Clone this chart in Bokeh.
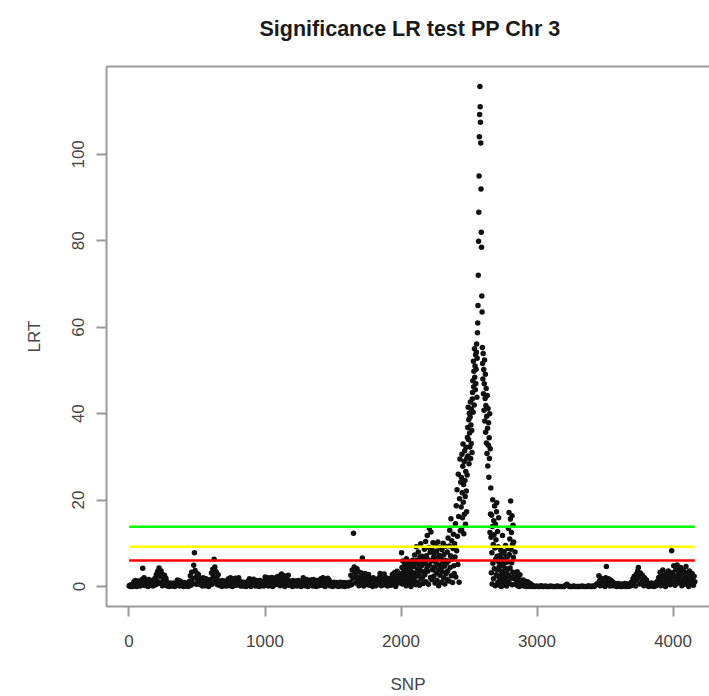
import numpy as np
from bokeh.plotting import figure
from bokeh.models import Range1d, LinearAxis, FixedTicker, ColumnDataSource
from bokeh.embed import file_html
from bokeh.resources import INLINE

# ---------------- data (LRT per SNP) ----------------
# each block: first SNP index, SNP spacing, LRT values
start_a, step_a = 1, 5
lrt_a = [0.1, 0.3, 0.0, 0.4, 0.2, 0.0,
         0.5, 1.1, 0.2, 1.4, 0.8, 0.0, 1.2, 0.4, 0.9, 1.3, 0.1, 0.7, 1.0,
         1.6, 4.2, 0.3, 2.0, 1.1, 0.6,
         0.2, 1.5, 0.9, 0.0, 1.6, 0.5, 1.2, 0.3, 1.4, 0.8, 0.1, 1.1, 0.6,
         1.9, 0.4, 2.8, 1.3, 3.5, 0.7, 4.3, 2.4, 1.0, 3.6, 2.9, 0.2, 2.0, 1.5, 2.6,
         0.6, 1.9, 1.2, 0.1,
         0.3, 0.7, 0.0, 0.5, 0.8, 0.2, 0.6, 0.1, 0.4, 0.8, 0.0, 0.5, 0.3, 0.7,
         1.5, 0.4, 1.0, 0.1, 1.3, 0.6, 0.9, 0.2,
         0.5, 0.0, 0.9, 0.3, 0.7, 0.1, 0.8, 0.4, 0.0, 0.6,
         1.2, 2.5, 0.3, 3.3, 1.8, 0.7, 4.9, 7.8, 3.7, 2.1, 0.5, 3.0, 1.4, 2.7, 0.9, 1.9,
         0.4, 1.7, 1.0, 0.1, 2.0, 0.7, 1.3, 0.2, 1.8, 0.9, 0.5, 1.5, 0.0, 1.1, 0.6,
         1.6, 3.1, 0.5, 4.0, 2.3, 6.3, 4.5, 1.2, 3.4, 2.0, 0.4, 2.7, 1.0,
         0.3, 1.2, 0.8, 0.0, 1.4, 0.5, 1.0, 0.2, 1.3, 0.7, 0.1, 0.9,
         0.6, 1.8, 1.1, 0.2, 2.0, 0.9, 1.4, 0.0, 1.7, 0.5, 1.2, 1.9, 0.3, 1.0, 1.6, 0.4, 2.0, 0.8, 1.3, 0.1,
         0.4, 0.9, 0.1, 0.6, 1.0, 0.2, 0.7, 0.0, 0.5, 0.8,
         1.3, 0.3, 1.8, 0.8, 0.0, 1.5, 1.0, 0.4, 1.7, 0.6, 1.2, 0.1, 1.4, 0.9,
         0.5, 1.1, 0.0, 1.4, 0.7, 0.2, 1.2, 0.4, 0.9, 0.1,
         1.0, 2.2, 0.3, 1.6, 0.8, 2.0, 0.1, 1.3, 1.9, 0.5, 1.1, 2.1, 0.0, 1.5, 0.7, 1.8, 0.4, 1.2, 2.2, 0.6,
         0.9, 2.4, 1.5, 0.2, 2.0, 2.9, 1.1, 0.5, 1.8, 2.5, 0.0, 1.3, 2.2, 0.7, 1.6, 2.6, 0.3, 1.0,
         0.4, 1.2, 0.7, 0.0, 1.4, 0.9, 0.2, 1.1, 0.5, 1.3, 0.1, 0.8, 1.4, 0.3, 1.0, 0.6, 0.0, 1.2, 0.7, 2.0,
         0.5, 1.4, 0.2, 1.0, 1.6, 0.7, 0.0, 1.3, 0.9, 0.3, 1.5, 0.6, 1.1, 0.1, 1.6, 0.8, 0.4, 1.2, 0.0, 1.4, 0.7, 1.0, 0.2, 1.5,
         0.9, 1.8, 0.3, 1.4, 2.0, 0.6, 1.1, 0.0, 1.7, 1.2, 0.4, 1.9, 0.8, 1.5, 0.2, 1.0,
         0.3, 0.8, 0.0, 0.5, 1.0, 0.2, 0.7, 0.4, 0.9, 0.1, 0.6, 0.0, 0.8, 0.3, 1.0, 0.5, 0.1, 0.7, 0.4, 0.9, 0.0, 0.6, 0.2, 0.8, 0.5, 0.1, 0.9, 0.3,
         1.0, 2.6, 0.4, 3.8, 1.9, 12.3, 4.5, 3.1, 0.8, 2.3, 4.1, 1.4, 3.4, 0.2,
         2.0, 0.6, 3.2, 1.3, 6.6, 2.6, 0.1, 1.8, 3.0, 0.9, 2.3, 1.5, 0.4, 2.8,
         1.1, 0.3, 1.9, 0.7, 1.4, 0.0, 2.0, 1.0, 0.5, 1.6, 0.2, 1.3, 0.8, 1.8,
         0.6, 2.1, 3.0, 1.2, 0.2, 2.6, 1.7, 0.9, 2.9,
         0.4, 1.5, 2.0, 0.8, 0.1, 1.2, 1.8, 0.6, 1.0,
         0.3, 1.9, 2.8, 1.1, 0.5, 3.2, 2.2, 0.0, 1.6, 3.5, 2.5, 0.8, 1.3, 3.0, 2.0]

start_b, step_b = 2001, 3
lrt_b = [2.1, 7.8, 4.4, 0.6, 5.9, 3.2, 1.5,
         3.8, 0.9, 5.2, 2.6, 4.4, 0.2, 6.4, 3.1, 1.7, 4.9, 2.2, 0.5, 5.7, 3.6, 1.2, 4.1, 2.8, 0.0, 5.0, 1.9, 3.3, 6.1, 0.8, 2.5,
         4.6, 1.4, 7.3, 3.0, 5.5, 0.4, 9.2, 2.4, 6.1, 4.0, 1.0, 8.0, 5.1, 2.9, 0.3, 6.8, 3.7, 9.9, 1.8, 4.8, 7.0, 2.0, 5.8, 0.7, 3.4, 6.4,
         8.6, 2.7, 5.3, 10.4, 1.1, 7.1, 4.2, 11.8, 3.5, 6.2, 0.5, 9.0, 13.5, 4.9, 7.9, 2.1, 12.6, 5.9, 1.6, 8.4, 3.9, 10.1, 6.7,
         2.4, 7.6, 4.5, 0.8, 9.6, 5.6, 3.1, 8.2, 1.4, 6.5, 10.3, 3.8, 0.2, 7.2, 5.0, 2.6, 9.0, 4.1, 6.9, 1.0, 8.5, 3.4, 5.8, 10.0, 2.0, 7.4, 4.7, 0.6, 6.1, 9.3, 3.0, 5.4, 1.7,
         8.0, 3.6, 11.2, 5.9, 1.3, 9.4, 13.0, 4.4, 7.1, 15.7, 2.5, 10.6, 6.3, 0.9, 8.8, 12.1, 4.8, 3.0, 9.9, 6.8,
         14.5, 2.2, 18.7, 8.3, 22.4, 11.6, 5.1, 26.0, 16.2, 1.0, 20.3, 29.5, 12.9, 24.1]

start_c, step_c = 2442, 2
lrt_c = [18.4, 25.2, 13.1, 30.6, 21.7, 15.9, 27.8, 33.0, 19.5, 23.6, 12.2, 28.9, 16.7, 31.4, 24.5, 20.8, 14.4, 26.6, 32.2, 22.1, 17.3, 29.7, 25.8, 34.5,
         36.8, 30.2, 41.5, 34.0, 38.6, 28.4, 40.1, 35.5, 32.3, 39.2, 42.7, 29.6, 37.4, 33.1, 41.0, 36.1, 31.0, 43.4,
         44.9, 47.6, 40.3, 52.1, 46.2, 49.8, 42.0, 55.0, 48.4, 51.0, 45.5, 53.6, 47.0, 50.3, 54.2, 56.1, 43.8, 52.8,
         58.7, 61.0, 65.0, 72.0, 79.9, 86.6, 95.0, 104.1, 109.2, 115.7, 111.0, 107.4, 102.6, 92.0, 82.0, 78.5, 67.2, 63.5,
         55.3, 51.6, 48.0, 53.9, 44.6, 50.2, 40.8, 46.9, 52.4, 38.3, 43.5, 49.1, 35.7, 41.9, 45.8, 33.2, 39.4, 30.8, 44.2, 36.6, 27.9, 41.2, 32.7, 37.9, 25.3, 34.4, 29.6, 40.0, 12.5, 31.9, 16.8, 22.8]

start_d, step_d = 2662, 2
lrt_d = [11.4, 3.2, 16.5, 7.8, 0.6, 13.9, 20.1, 5.4, 9.7, 1.8, 15.2, 12.0, 4.1, 18.6, 8.9, 0.2, 14.4, 6.3, 10.8, 2.7, 17.3, 19.4, 7.0, 3.9, 12.7, 0.9, 9.2, 5.8, 15.9, 2.1,
         4.6, 0.3, 7.2, 2.5, 5.9, 1.1, 8.4, 3.6, 0.0, 6.4, 2.0, 4.9, 11.8, 1.5, 7.7, 3.0, 0.5, 5.3, 8.1, 2.3, 6.0, 0.8, 4.2, 9.5, 1.7, 3.4, 7.0, 0.1, 5.6, 2.8, 6.8, 1.2, 4.0, 8.8,
         13.4, 2.6, 17.1, 7.4, 0.7, 11.0, 4.3, 15.6, 19.8, 8.6, 1.9, 12.5, 5.5, 16.4, 0.4, 9.8, 3.3, 14.2, 6.7, 10.3, 2.4]

start_e, step_e = 2834, 4
lrt_e = [1.8, 8.0, 0.5, 2.9, 1.2, 3.4, 0.2, 2.2, 1.5, 0.0, 2.7, 0.9,
         1.4, 0.3, 1.0, 0.6, 1.5, 0.1, 0.8, 1.2, 0.4, 0.9, 0.0, 0.7, 1.1, 0.2, 0.5, 0.8, 0.0, 0.4, 0.6, 0.1, 0.3, 0.0, 0.2, 0.1, 0.0]

start_f, step_f = 2990, 10
lrt_f = [0.0, 0.1, 0.0, 0.0, 0.2, 0.0, 0.0, 0.1, 0.0, 0.0,
         0.0, 0.1, 0.0, 0.0, 0.0, 0.0, 0.1, 0.0, 0.0, 0.0,
         0.0, 0.0, 0.3, 0.5, 0.2, 0.0, 0.0, 0.0, 0.1, 0.0,
         0.0, 0.0, 0.0, 0.0, 0.1, 0.0, 0.0, 0.0, 0.0, 0.2,
         0.0, 0.0, 0.1, 0.0, 0.3, 0.6]

start_g, step_g = 3450, 5
lrt_g = [0.8, 2.5, 1.4, 0.2, 1.9, 0.6, 1.1,
         0.3, 1.7, 1.0, 0.0, 2.0, 4.6, 1.3, 0.5, 1.8, 0.9, 0.1, 1.5, 0.7, 1.2, 0.2, 0.9, 0.4, 0.6,
         0.2, 0.5, 0.0, 0.3, 0.7, 0.1, 0.4, 0.0, 0.6, 0.2, 0.0, 0.5, 0.3, 0.1, 0.7, 0.0, 0.4, 0.2, 0.6, 0.0, 0.3, 0.5, 0.1, 0.8,
         1.0, 0.3, 1.8, 0.7, 2.4, 1.3, 0.1, 2.9, 1.6, 3.6, 4.4, 2.2, 0.6, 3.1, 1.9, 0.9, 2.6, 1.4, 0.2, 2.0, 1.1, 0.5, 1.5, 0.8,
         0.4, 0.0, 0.7, 0.2, 0.5, 0.8, 0.1, 0.3, 0.6, 0.0, 0.4, 0.8, 0.2, 0.5, 1.2,
         0.6, 2.1, 1.2, 3.3, 0.2, 2.7, 1.7, 3.8, 0.9, 2.4, 1.4, 0.0, 3.0, 2.0, 0.7, 3.6, 1.1, 2.5, 0.4, 1.8,
         8.3, 3.2, 1.0, 4.8, 2.3, 0.3, 3.9, 1.6, 5.0, 2.8,
         0.8, 3.5, 2.1, 4.4, 1.2, 0.2, 2.9, 3.8, 1.6, 0.5, 2.5, 4.6, 1.0, 3.2, 2.0, 0.0, 3.6, 1.4, 2.7, 0.6, 3.0, 1.8, 0.3, 2.4, 1.1]

# significance thresholds (chi-square, 2 df: p = 0.05, 0.01, 0.001)
thresholds = [5.99, 9.21, 13.82]
threshold_colors = ["#ff0000", "#ffff00", "#00ff00"]

x_ticks = [0, 1000, 2000, 3000, 4000]
y_ticks = [0, 20, 40, 60, 80, 100]

title_text = "Significance LR test PP Chr 3"
x_label = "SNP"
y_label = "LRT"

# ---------------- build ----------------
blocks = [(start_a, step_a, lrt_a), (start_b, step_b, lrt_b), (start_c, step_c, lrt_c),
          (start_d, step_d, lrt_d), (start_e, step_e, lrt_e), (start_f, step_f, lrt_f),
          (start_g, step_g, lrt_g)]
snp = np.concatenate([s + st * np.arange(len(v)) for s, st, v in blocks])
lrt = np.concatenate([np.array(v, dtype=float) for _, _, v in blocks])

snp_min, snp_max = snp.min(), snp.max()
x_lo = snp_min - 0.04 * (snp_max - snp_min)
x_hi = snp_max + 108          # plot region is cut by the right edge of the picture
y_lo = -0.04 * lrt.max()
y_hi = lrt.max() * 1.04

FONT = "Liberation Sans"
BOX = "#9a9a9a"
TXT = "#444444"

p = figure(width=709, height=696, output_backend="svg", toolbar_location=None,
           x_range=Range1d(x_lo, x_hi), y_range=Range1d(y_lo, y_hi),
           x_axis_location=None, y_axis_location=None,
           min_border_left=106, min_border_right=0, min_border_top=66, min_border_bottom=88)
p.outline_line_color = None
p.grid.visible = False
p.background_fill_color = "white"
p.border_fill_color = "white"

p.title.text = title_text
p.title.text_font = FONT
p.title.text_font_size = "21.5px"
p.title.text_font_style = "bold"
p.title.text_color = "#1a1a1a"
p.title.align = "left"
p.title.offset = 153
p.title.standoff = 22

def style_axis(ax):
    ax.axis_line_color = BOX
    ax.axis_line_width = 2
    ax.major_tick_line_color = BOX
    ax.major_tick_line_width = 2
    ax.major_tick_in = 0
    ax.major_tick_out = 10
    ax.minor_tick_line_color = None
    ax.major_label_text_font = FONT
    ax.major_label_text_font_size = "17px"
    ax.major_label_text_color = TXT
    ax.axis_label_text_font = FONT
    ax.axis_label_text_font_size = "17px"
    ax.axis_label_text_font_style = "normal"
    ax.axis_label_text_color = TXT

xaxis = LinearAxis(ticker=FixedTicker(ticks=x_ticks), axis_label=x_label)
style_axis(xaxis)
xaxis.major_label_standoff = 18
xaxis.axis_label_standoff = 25
p.add_layout(xaxis, "below")

yaxis = LinearAxis(ticker=FixedTicker(ticks=y_ticks), axis_label=y_label,
                   major_label_orientation="vertical")
style_axis(yaxis)
yaxis.major_label_standoff = 12
yaxis.axis_label_standoff = 26
p.add_layout(yaxis, "left")

# top border of the box (the right border lies outside the picture);
# its blank label keeps the title at the height it has in the reference
top_axis = LinearAxis(ticker=FixedTicker(ticks=[]), axis_label=" ")
style_axis(top_axis)
top_axis.major_tick_out = 0
top_axis.major_label_text_font_size = "0px"
top_axis.axis_label_text_font_size = "2px"
top_axis.axis_label_standoff = 10
p.add_layout(top_axis, "above")

p.scatter(x=snp, y=lrt, size=5.5, marker="circle", fill_color="#111111", line_color=None)

thr_src = ColumnDataSource(dict(x0=[snp_min] * len(thresholds), x1=[snp_max] * len(thresholds),
                                y=thresholds, color=threshold_colors))
p.segment(x0="x0", x1="x1", y0="y", y1="y", line_color="color", line_width=2.5, source=thr_src)

open("out.html", "w").write(file_html(p, INLINE))
